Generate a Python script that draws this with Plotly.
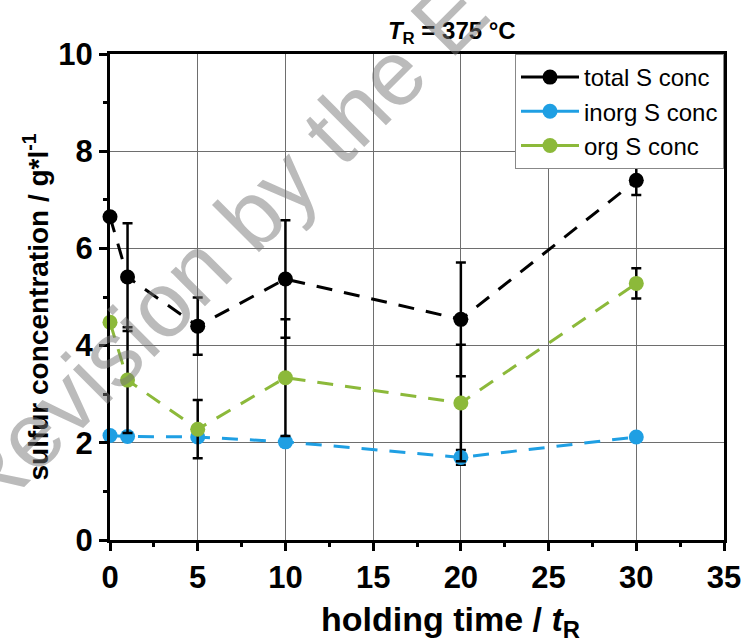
import plotly.graph_objects as go

# ---- data ----
time_h = [0, 1, 5, 10, 20, 30]
total_s = [6.65, 5.41, 4.40, 5.37, 4.54, 7.40]
total_err = [0.0, 1.11, 0.59, 1.21, 1.17, 0.30]
inorg_s = [2.15, 2.13, 2.12, 2.02, 1.70, 2.12]
inorg_err = [0.05, 0.06, 0.08, 0.05, 0.15, 0.06]
org_s = [4.48, 3.29, 2.28, 3.34, 2.82, 5.28]
org_err = [0.0, 1.09, 0.60, 1.20, 1.20, 0.31]

names = ["total S conc", "inorg S conc", "org S conc"]
colors = ["#000000", "#1f9fe3", "#8cb93a"]
x_ticks = [0, 5, 10, 15, 20, 25, 30, 35]
y_ticks = [0, 2, 4, 6, 8, 10]

FONT = "Liberation Sans, Arial, sans-serif"

fig = go.Figure()

series = [(total_s, total_err), (inorg_s, inorg_err), (org_s, org_err)]
for idx in [1, 2, 0]:
    ys, es = series[idx]
    fig.add_trace(go.Scatter(
        x=time_h, y=ys, mode="lines+markers", name=names[idx],
        showlegend=False, cliponaxis=False,
        line=dict(color=colors[idx], width=3, dash="16px,12px"),
        marker=dict(color=colors[idx], size=15),
        error_y=dict(type="data", array=es, visible=True, color="#000000",
                     thickness=2.5, width=5),
    ))

# legend entries (solid lines as in the reference legend)
for i in range(3):
    fig.add_trace(go.Scatter(
        x=[None], y=[None], mode="lines+markers", name=names[i],
        line=dict(color=colors[i], width=3),
        marker=dict(color=colors[i], size=15),
    ))

axis_common = dict(
    showline=True, linecolor="black", linewidth=3, mirror=True,
    ticks="outside", ticklen=8, tickwidth=2.5, tickcolor="black",
    showgrid=True, gridcolor="#6e6e6e", gridwidth=1.3,
    zeroline=False,
    tickfont=dict(family=FONT, size=31, color="black", weight="bold"),
)

fig.update_xaxes(
    range=[0, 35], tickvals=x_ticks, ticktext=[str(v) for v in x_ticks],
    minor=dict(ticks="outside", ticklen=4, tickwidth=2.5, tickcolor="black",
               dtick=2.5, tick0=0, showgrid=False),
    **axis_common,
)
fig.update_yaxes(
    range=[0, 10], tickvals=y_ticks, ticktext=[str(v) for v in y_ticks],
    minor=dict(ticks="outside", ticklen=4, tickwidth=2.5, tickcolor="black",
               dtick=1, tick0=0, showgrid=False),
    **axis_common,
)

fig.update_layout(
    width=753, height=643,
    margin=dict(l=110, r=19, t=54, b=103),
    paper_bgcolor="white", plot_bgcolor="white",
    title=dict(text="<i>T</i><sub>R</sub> = 375 °C", x=0.6, xanchor="center",
               y=0.953, yanchor="middle",
               font=dict(family=FONT, size=24, color="black", weight="bold")),
    legend=dict(x=1, y=1, xanchor="right", yanchor="top",
                bgcolor="white", bordercolor="#888888", borderwidth=1,
                font=dict(family=FONT, size=24, color="black"),
                itemwidth=58, tracegroupgap=0),
    showlegend=True,
)

# x-axis title
fig.add_annotation(
    text="holding time / <i>t</i><sub>R</sub>", xref="paper", yref="paper",
    x=0.555, y=-0.168, xanchor="center", yanchor="middle", showarrow=False,
    font=dict(family=FONT, size=34, color="black", weight="bold"),
)
# y-axis title
fig.add_annotation(
    text="sulfur concentration / g*l<sup>-1</sup>", xref="paper", yref="paper",
    x=-0.12, y=0.479, xanchor="center", yanchor="middle", showarrow=False,
    textangle=-90,
    font=dict(family=FONT, size=28, color="black", weight="bold"),
)

# watermark
fig.add_annotation(
    text="Revision by the E", xref="paper", yref="paper",
    x=0.176, y=0.60, xanchor="center", yanchor="middle",
    showarrow=False, textangle=-45,
    font=dict(family=FONT, size=92, color="rgba(120,120,120,0.5)"),
)

fig.write_html("out.html")
